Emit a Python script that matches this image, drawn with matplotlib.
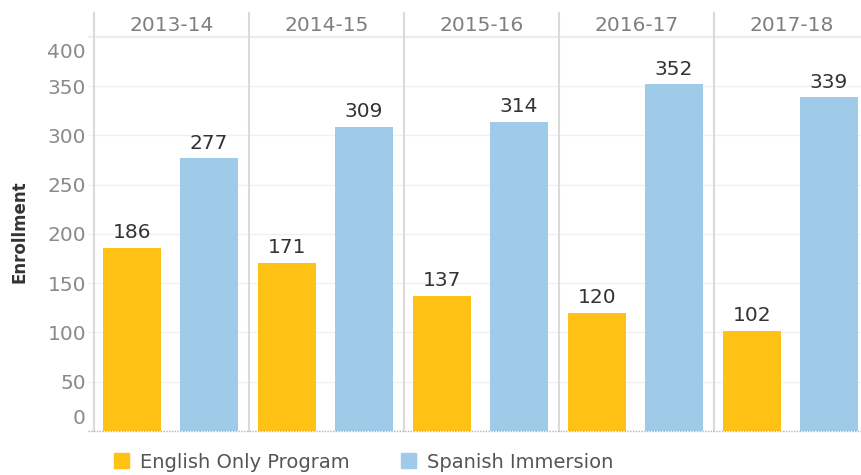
import numpy as np
import matplotlib.pyplot as plt
import matplotlib.transforms as mtransforms
from matplotlib.patches import Patch

# data
years = ['2013-14', '2014-15', '2015-16', '2016-17', '2017-18']
english = [186, 171, 137, 120, 102]
spanish = [277, 309, 314, 352, 339]
series = ['English Only Program', 'Spanish Immersion']
colors = ['#FFC114', '#A0CBE8']

fig = plt.figure(figsize=(8.61, 4.75), dpi=100)
# panels are 155px wide, the last one runs past the right edge
ax = fig.add_axes([94/861, 44/475, 775/861, 395/475])

n = np.arange(len(years))
w = 58/155
ax.bar(n + 38/155, english, w, color=colors[0], zorder=2)
ax.bar(n + 115/155, spanish, w, color=colors[1], zorder=2)

for xs, vals in [(n + 38/155, english), (n + 115/155, spanish)]:
    for x, v in zip(xs, vals):
        ax.annotate(str(v), (x, v), xytext=(0, 4), textcoords='offset points',
                    ha='center', va='bottom', fontsize=14.5, color='#333333')

ax.set_xlim(0, len(years))
ax.set_ylim(0, 401)

# panel separators reaching up into the header row
for i in range(len(years) + 1):
    ax.axvline(i, ymin=0, ymax=(431-13)/395, clip_on=False, color='#dadada', lw=1.5, zorder=3)

# year headers
for i, yr in enumerate(years):
    ax.text(i + 0.5, (431-25)/395, yr, transform=ax.get_xaxis_transform(),
            ha='center', va='center', fontsize=14.5, color='#7f7f7f')

ax.set_yticks(range(0, 401, 50))
ax.yaxis.grid(True, color='#f0f0f0', lw=1)
ax.set_axisbelow(True)
ax.tick_params(axis='y', length=4.3, color='#f0f0f0', pad=1.5, labelsize=14.5, labelcolor='#8a8a8a')
ax.tick_params(axis='x', bottom=False, labelbottom=False)
for s in ax.spines.values():
    s.set_visible(False)

# end labels are pushed inside, as in the original
labels = ax.get_yticklabels()
labels[0].set_transform(labels[0].get_transform() + mtransforms.ScaledTranslation(0, 0.15, fig.dpi_scale_trans))
labels[-1].set_transform(labels[-1].get_transform() + mtransforms.ScaledTranslation(0, -0.14, fig.dpi_scale_trans))

ax.axhline(0, xmin=-6/775, xmax=1, color='#b5b5b5', lw=1, ls=(0, (1, 1)), clip_on=False, zorder=3)
ax.axhline(401, xmin=-6/775, xmax=1, color='#ebebeb', lw=1, clip_on=False)

fig.text(20/861, 1 - 232/475, 'Enrollment', rotation=90, ha='center', va='center',
         fontsize=12, fontweight='bold', color='#333333')

handles = [Patch(color=c) for c in colors]
fig.legend(handles, series, loc='center left', bbox_to_anchor=(114/861, 1 - 462/475), ncol=2,
           frameon=False, fontsize=14, handlelength=0.77, handleheight=0.77, handletextpad=0.57,
           columnspacing=2.65, borderpad=0, borderaxespad=0, labelcolor='#555555')

fig.savefig('out.png', dpi=100)
